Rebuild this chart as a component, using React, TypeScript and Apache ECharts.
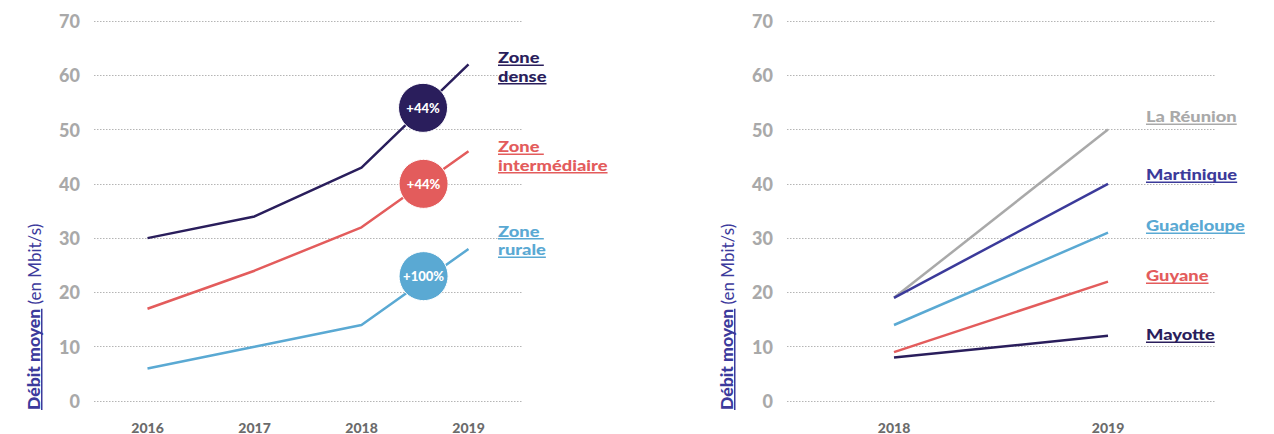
import React, { useEffect, useRef } from 'react';
import * as echarts from 'echarts';

// ---------- data ----------
const yearsLeft = [2016, 2017, 2018, 2019];
const zoneDense = [30, 34, 43, 62];
const zoneInter = [17, 24, 32, 46];
const zoneRurale = [6, 10, 14, 28];
const bubbleX = [2018.575, 2018.58, 2018.58];
const bubbleY = [54, 40, 23];
const bubbleText = ['+44%', '+44%', '+100%'];

const yearsRight = ['2018', '2019'];
const reunion = [19, 50];
const martinique = [19, 40];
const guadeloupe = [14, 31];
const guyane = [9, 22];
const mayotte = [8, 12];

const yMin = 0;
const yMax = 70;
const yStep = 10;

// ---------- styles ----------
const FONT = 'Lato, "Open Sans", sans-serif';
const HEAVY = 900;
const NAVY = '#2a1e5c';
const RED = '#e35c5c';
const BLUE = '#5aa9d3';
const INDIGO = '#3b3a9a';
const GRAY = '#a9a9a9';
const TITLE = '#3c3a9c';
const LABEL_SIZE = 15.5;
const LABEL_SX = 1.18;
const LINE_H = 18.5;

const leftLabels = [
  { lines: ['Zone ', 'dense'], color: NAVY, base: 63 },
  { lines: ['Zone ', 'intermédiaire'], color: RED, base: 152 },
  { lines: ['Zone ', 'rurale'], color: BLUE, base: 236.5 },
];
const rightLabels = [
  { lines: ['La Réunion'], color: GRAY, base: 122 },
  { lines: ['Martinique'], color: INDIGO, base: 180 },
  { lines: ['Guadeloupe'], color: BLUE, base: 231 },
  { lines: ['Guyane'], color: RED, base: 281 },
  { lines: ['Mayotte'], color: NAVY, base: 340 },
];

function measure(text: string, font: string): number {
  const c = document.createElement('canvas').getContext('2d');
  if (!c) return text.length * 8;
  c.font = font;
  return c.measureText(text).width;
}

function labelGraphics(labels: any[], x: number) {
  const out: any[] = [];
  labels.forEach((l) => {
    l.lines.forEach((t: string, i: number) => {
      const b = l.base + i * LINE_H;
      out.push({
        type: 'text',
        x,
        y: b - 5.8,
        scaleX: LABEL_SX,
        style: {
          text: t,
          fill: l.color,
          fontSize: LABEL_SIZE,
          fontWeight: HEAVY,
          fontFamily: FONT,
          textAlign: 'left',
          textVerticalAlign: 'middle',
        },
        z: 10,
      });
      out.push({
        type: 'rect',
        shape: {
          x,
          y: b + 1.5,
          width: measure(t, `${HEAVY} ${LABEL_SIZE}px Lato`) * LABEL_SX,
          height: 1.5,
        },
        style: { fill: l.color },
        z: 10,
      });
    });
  });
  return out;
}

function axisTitle(cx: number) {
  const sx = 1.1;
  const w1 = measure('Débit moyen', `${HEAVY} 16px Lato`) * sx;
  const wSp = measure(' ', '16px Lato');
  return {
    type: 'group',
    x: cx,
    y: 410,
    rotation: Math.PI / 2,
    children: [
      {
        type: 'text',
        x: 0,
        y: 0,
        scaleX: sx,
        style: {
          text: 'Débit moyen',
          fill: TITLE,
          fontSize: 16,
          fontWeight: HEAVY,
          fontFamily: FONT,
          textAlign: 'left',
          textVerticalAlign: 'middle',
        },
      },
      {
        type: 'rect',
        shape: { x: 0, y: 7, width: w1, height: 1.5 },
        style: { fill: TITLE },
      },
      {
        type: 'text',
        x: w1 + wSp,
        y: 0,
        style: {
          text: '(en Mbit/s)',
          fill: TITLE,
          fontSize: 17,
          fontWeight: 'normal',
          fontFamily: FONT,
          textAlign: 'left',
          textVerticalAlign: 'middle',
        },
      },
    ],
  };
}

const yAxisCommon = (gridIndex: number) => ({
  type: 'value',
  gridIndex,
  min: yMin,
  max: yMax,
  interval: yStep,
  axisLine: { show: false },
  axisTick: { show: false },
  axisLabel: {
    color: GRAY,
    fontSize: 18,
    fontWeight: HEAVY,
    fontFamily: FONT,
    margin: 14,
  },
  splitLine: { show: true, lineStyle: { color: '#b5b5b5', type: [1.5, 1.5], width: 1 } },
});

const xLabelStyle = {
  color: '#6b6b6b',
  fontSize: 14,
  fontWeight: HEAVY,
  fontFamily: FONT,
  margin: 19,
};

const lineSeries = (name: string, data: any[], color: string, xi: number, yi: number) => ({
  type: 'line',
  name,
  xAxisIndex: xi,
  yAxisIndex: yi,
  data,
  symbol: 'none',
  lineStyle: { color, width: 2.5 },
  itemStyle: { color },
  z: 3,
});

export default function App() {
  const ref = useRef<HTMLDivElement>(null);
  useEffect(() => {
    if (!ref.current) return;
    const chart = echarts.init(ref.current, undefined, { renderer: 'svg' });
    const bubbleColors = [NAVY, RED, BLUE];
    const option: any = {
      animation: false,
      backgroundColor: '#ffffff',
      textStyle: { fontFamily: FONT },
      grid: [
        { left: 94, top: 21, width: 428, height: 382 },
        { left: 787, top: 21, width: 428, height: 382 },
      ],
      xAxis: [
        {
          type: 'value',
          gridIndex: 0,
          min: 2015.5,
          max: 2019.5,
          interval: 0.5,
          axisLine: { show: false },
          axisTick: { show: false },
          splitLine: { show: false },
          axisLabel: {
            ...xLabelStyle,
            formatter: (v: number) => (Math.abs(v - Math.round(v)) < 1e-6 ? String(Math.round(v)) : ''),
          },
        },
        {
          type: 'category',
          gridIndex: 1,
          data: yearsRight,
          boundaryGap: true,
          axisLine: { show: false },
          axisTick: { show: false },
          splitLine: { show: false },
          axisLabel: xLabelStyle,
        },
      ],
      yAxis: [yAxisCommon(0), yAxisCommon(1)],
      series: [
        lineSeries('Zone dense', yearsLeft.map((y, i) => [y, zoneDense[i]]), NAVY, 0, 0),
        lineSeries('Zone intermédiaire', yearsLeft.map((y, i) => [y, zoneInter[i]]), RED, 0, 0),
        lineSeries('Zone rurale', yearsLeft.map((y, i) => [y, zoneRurale[i]]), BLUE, 0, 0),
        {
          type: 'scatter',
          xAxisIndex: 0,
          yAxisIndex: 0,
          symbolSize: 49,
          z: 5,
          data: bubbleX.map((x, i) => ({
            value: [x, bubbleY[i]],
            itemStyle: { color: bubbleColors[i], borderColor: '#ffffff', borderWidth: 1, opacity: 1 },
          })),
          itemStyle: { opacity: 1 },
          emphasis: { disabled: true },
          label: {
            show: true,
            position: 'inside',
            formatter: (p: any) => bubbleText[p.dataIndex],
            color: '#ffffff',
            fontSize: 13,
            fontWeight: HEAVY,
            fontFamily: FONT,
          },
        },
        lineSeries('La Réunion', reunion, GRAY, 1, 1),
        lineSeries('Martinique', martinique, INDIGO, 1, 1),
        lineSeries('Guadeloupe', guadeloupe, BLUE, 1, 1),
        lineSeries('Guyane', guyane, RED, 1, 1),
        lineSeries('Mayotte', mayotte, NAVY, 1, 1),
      ],
      graphic: [
        ...labelGraphics(leftLabels, 498),
        ...labelGraphics(rightLabels, 1146),
        axisTitle(34),
        axisTitle(727),
      ],
    };
    chart.setOption(option);
    return () => chart.dispose();
  }, []);
  return (
    <div
      ref={ref}
      style={{ position: 'absolute', left: 0, top: 0, width: 1274, height: 434, background: '#fff' }}
    />
  );
}
